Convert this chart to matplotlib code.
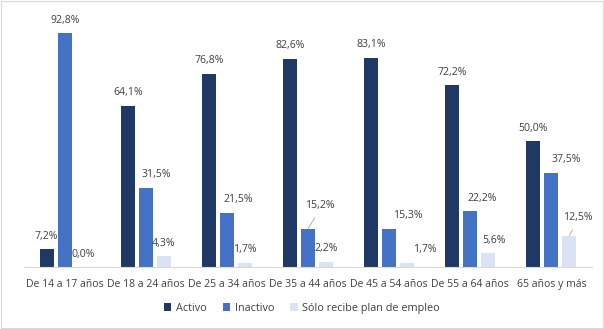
import matplotlib
matplotlib.use("Agg")
import matplotlib.pyplot as plt
import numpy as np

categories = ["De 14 a 17 años", "De 18 a 24 años", "De 25 a 34 años", "De 35 a 44 años",
              "De 45 a 54 años", "De 55 a 64 años", "65 años y más"]
activo = [7.2, 64.1, 76.8, 82.6, 83.1, 72.2, 50.0]
inactivo = [92.8, 31.5, 21.5, 15.2, 15.3, 22.2, 37.5]
solo_plan = [0.0, 4.3, 1.7, 2.2, 1.7, 5.6, 12.5]
series_names = ["Activo", "Inactivo", "Sólo recibe plan de empleo"]
colors = ["#203864", "#4472C4", "#DAE3F3"]

plt.rcParams['font.family'] = ['Open Sans', 'DejaVu Sans']
text_color = "#404040"

fig = plt.figure(figsize=(6.04, 3.29), dpi=100)
ax = fig.add_axes([0.04, 0.188, 0.94, 0.766])

x = np.arange(len(categories))
width = 0.175
step = 0.222
series = [activo, inactivo, solo_plan]

PX = 0.72  # points per pixel at 100 dpi
base_dy = 7.5  # px
# label shifts (pixels) for labels that Excel moved to avoid overlaps
shifts = {
    (0, 0): (-1, 0),
    (1, 1): (10, 0), (1, 2): (11, 0), (1, 3): (12, 10), (1, 4): (19, 0),
    (1, 5): (12, 0), (1, 6): (14.5, 0),
    (2, 4): (18, 0), (2, 5): (6, 0), (2, 6): (8, 5),
}
leader = {(1, 3), (2, 6)}

for si, (vals, col, name) in enumerate(zip(series, colors, series_names)):
    xs = x + (si - 1) * step
    ax.bar(xs, vals, width=width, color=col, label=name, zorder=2)
    for ci, (xi, v) in enumerate(zip(xs, vals)):
        dxp, dyp = shifts.get((si, ci), (0, 0))
        lbl = f"{v:.1f}%".replace(".", ",")
        kw = dict(xy=(xi, v), xytext=(dxp * PX, (base_dy + dyp) * PX),
                  textcoords="offset points", ha="center", va="bottom",
                  fontsize=7.6, color=text_color)
        if (si, ci) in leader:
            kw["arrowprops"] = dict(arrowstyle="-", color="#A6A6A6", lw=0.6,
                                    shrinkA=3, shrinkB=0, relpos=(0.45, 0))
        ax.annotate(lbl, **kw)

ax.set_xlim(-0.5, len(categories) - 0.5)
ax.set_ylim(0, 100)
ax.set_xticks(x)
ax.set_xticklabels(categories, fontsize=7.5, color=text_color)
ax.tick_params(axis="x", length=0, pad=8.5)
ax.set_yticks([])
for s in ["top", "right", "left"]:
    ax.spines[s].set_visible(False)
ax.spines["bottom"].set_color("#D9D9D9")
ax.spines["bottom"].set_linewidth(0.8)

leg = fig.legend(loc="center", bbox_to_anchor=(0.5, 0.063), ncol=3, frameon=False,
                 fontsize=7.8, handlelength=0.7, handleheight=0.7, handletextpad=0.4,
                 columnspacing=1.5)
for t in leg.get_texts():
    t.set_color(text_color)

border = plt.Rectangle((0.001, 0.002), 0.997, 0.995, transform=fig.transFigure,
                       fill=False, edgecolor="#D9D9D9", lw=0.8)
fig.patches.append(border)

fig.savefig("out.png", dpi=100)
